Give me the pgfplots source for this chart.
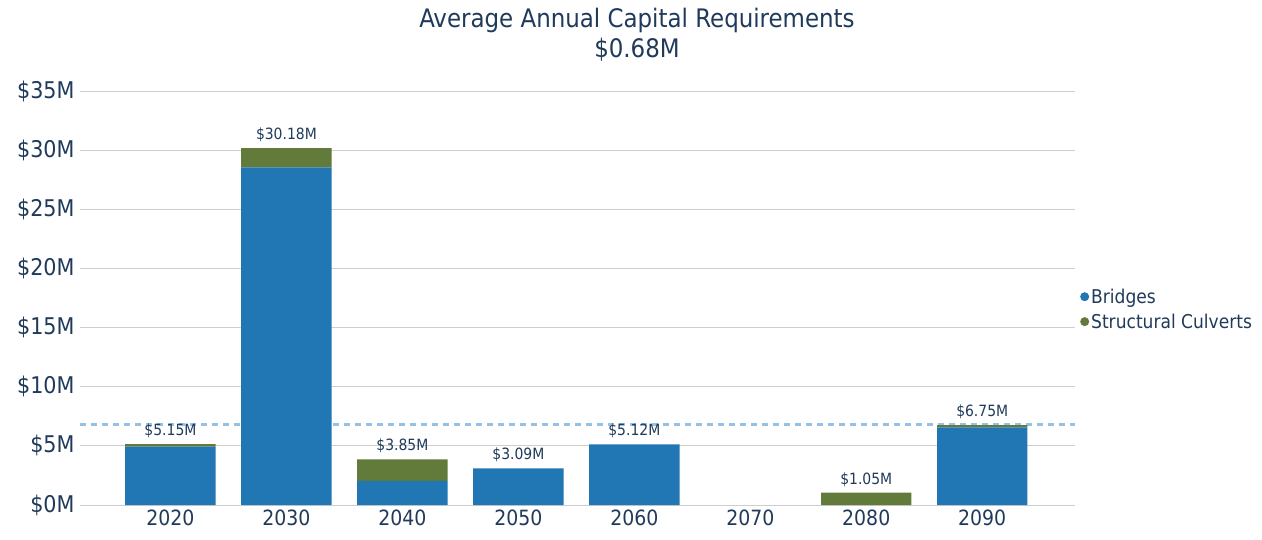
\documentclass[border=0pt]{standalone}
\usepackage{pgfplots}
\pgfplotsset{compat=1.18}
\usepackage{fontspec}
\setmainfont{DejaVu Sans Condensed}
\definecolor{bridge}{RGB}{32,119,180}
\definecolor{culvert}{RGB}{98,122,58}
\definecolor{txt}{RGB}{31,58,90}
\definecolor{gridc}{RGB}{206,206,206}
\definecolor{avgc}{RGB}{150,192,228}
\begin{document}
\begin{tikzpicture}
\begin{axis}[
  scale only axis,
  width=995pt, height=414pt,
  ybar stacked,
  bar width=0.78,
  xmin=-0.78, xmax=7.8,
  ymin=0, ymax=35,
  xtick={0,...,7},
  xticklabels={2020,2030,2040,2050,2060,2070,2080,2090},
  ytick={0,5,...,35},
  yticklabels={\$0M,\$5M,\$10M,\$15M,\$20M,\$25M,\$30M,\$35M},
  ymajorgrids, major grid style={gridc, line width=1pt},
  extra y ticks={6.8},
  extra y tick labels={},
  extra y tick style={grid=major, major grid style={avgc, line width=2.4pt, dash pattern=on 6pt off 5pt}, major tick length=0pt},
  axis x line*=bottom,
  axis y line*=left,
  y axis line style={draw=none},
  x axis line style={gridc, line width=1pt, -},
  major tick length=0pt,
  tick label style={font=\fontsize{21}{24}\selectfont, text=txt},
  yticklabel style={font=\fontsize{23}{26}\selectfont, xshift=-2pt},
  xticklabel style={yshift=-1pt},
  legend style={draw=none, fill=none, at={(1.002,0.473)}, anchor=west,
    font=\fontsize{19}{26}\selectfont, text=txt, row sep=5pt},
  legend cell align=left,
  legend image code/.code={\fill[#1, draw=none] (0.12cm,0) circle (4.5pt);},
  every node near coord/.append style={font=\fontsize{15.5}{18}\selectfont, text=txt, anchor=south, inner sep=2pt, yshift=4pt},
]
\addplot[fill=bridge, draw=none] coordinates {
 (0,4.93) (1,28.55) (2,2.03) (3,3.09) (4,5.12) (6,0) (7,6.57)};
\addlegendentry{Bridges}
\addplot[fill=culvert, draw=none] coordinates {
 (0,0.22) (1,1.63) (2,1.82) (3,0) (4,0) (6,1.05) (7,0.18)};
\addlegendentry{Structural Culverts}
\addplot[fill=none, draw=none, forget plot, point meta=explicit symbolic, nodes near coords] coordinates {
 (0,0.001) [\$5.15M]
 (1,0.001) [\$30.18M]
 (2,0.001) [\$3.85M]
 (3,0.001) [\$3.09M]
 (4,0.001) [\$5.12M]
 (6,0.001) [\$1.05M]
 (7,0.001) [\$6.75M]};
\end{axis}
\node[text=txt, font=\fontsize{25.5}{30}\selectfont] at (557pt,485pt) {Average Annual Capital Requirements};
\node[text=txt, font=\fontsize{25.5}{30}\selectfont] at (557pt,455pt) {\$0.68M};
\pgfresetboundingbox
\path[use as bounding box] (-80pt,-34pt) rectangle (1182pt,505pt);
\end{tikzpicture}
\end{document}
